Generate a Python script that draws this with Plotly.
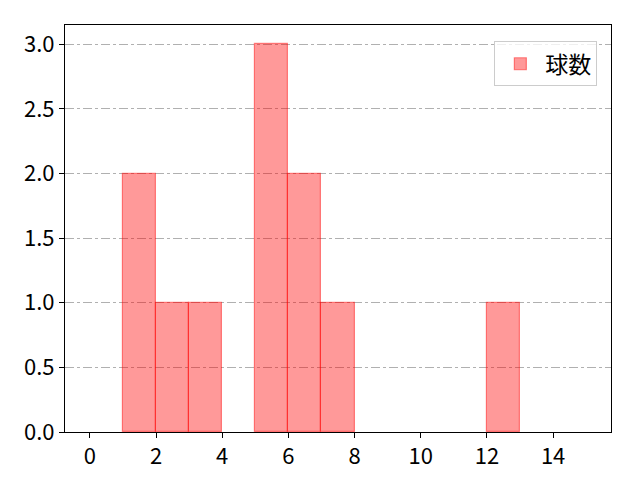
import plotly.graph_objects as go

bin_left = [1, 2, 3, 5, 6, 7, 12]
counts = [2, 1, 1, 3, 2, 1, 1]
series_name = "球数"
x_ticks = [0, 2, 4, 6, 8, 10, 12, 14]
y_ticks = [0.0, 0.5, 1.0, 1.5, 2.0, 2.5, 3.0]

centers = [b + 0.5 for b in bin_left]

fig = go.Figure()
fig.add_trace(go.Bar(
    x=centers, y=counts, width=[1] * len(centers), name=series_name,
    marker=dict(color="rgba(255,0,0,0.4)", line=dict(color="rgba(255,0,0,0.45)", width=1.2)),
    showlegend=True,
))

font = "Noto Sans CJK JP"
fig.update_layout(
    width=632, height=472,
    margin=dict(l=57, r=29, t=17, b=48),
    paper_bgcolor="white", plot_bgcolor="white",
    font=dict(family=font, size=22, color="black"),
    bargap=0,
    legend=dict(x=0.975, y=0.96, xanchor="right", yanchor="top",
                bordercolor="#cccccc", borderwidth=1, bgcolor="rgba(255,255,255,0.8)",
                font=dict(size=23, family=font), itemwidth=40),
    xaxis=dict(range=[-0.75, 15.75], tickvals=x_ticks, ticktext=[str(t) for t in x_ticks],
               showgrid=False, zeroline=False, showline=True, linecolor="black", linewidth=1,
               mirror=True, ticks="outside", ticklen=5, tickcolor="black", automargin=False),
    yaxis=dict(range=[0, 3.15], tickvals=y_ticks, ticktext=[f"{t:.1f}" for t in y_ticks],
               showgrid=True, gridcolor="#b0b0b0", griddash="dashdot", gridwidth=0.8,
               zeroline=False, showline=True, linecolor="black", linewidth=1,
               mirror=True, ticks="outside", ticklen=5, tickcolor="black", automargin=False),
)

fig.write_html("out.html")
